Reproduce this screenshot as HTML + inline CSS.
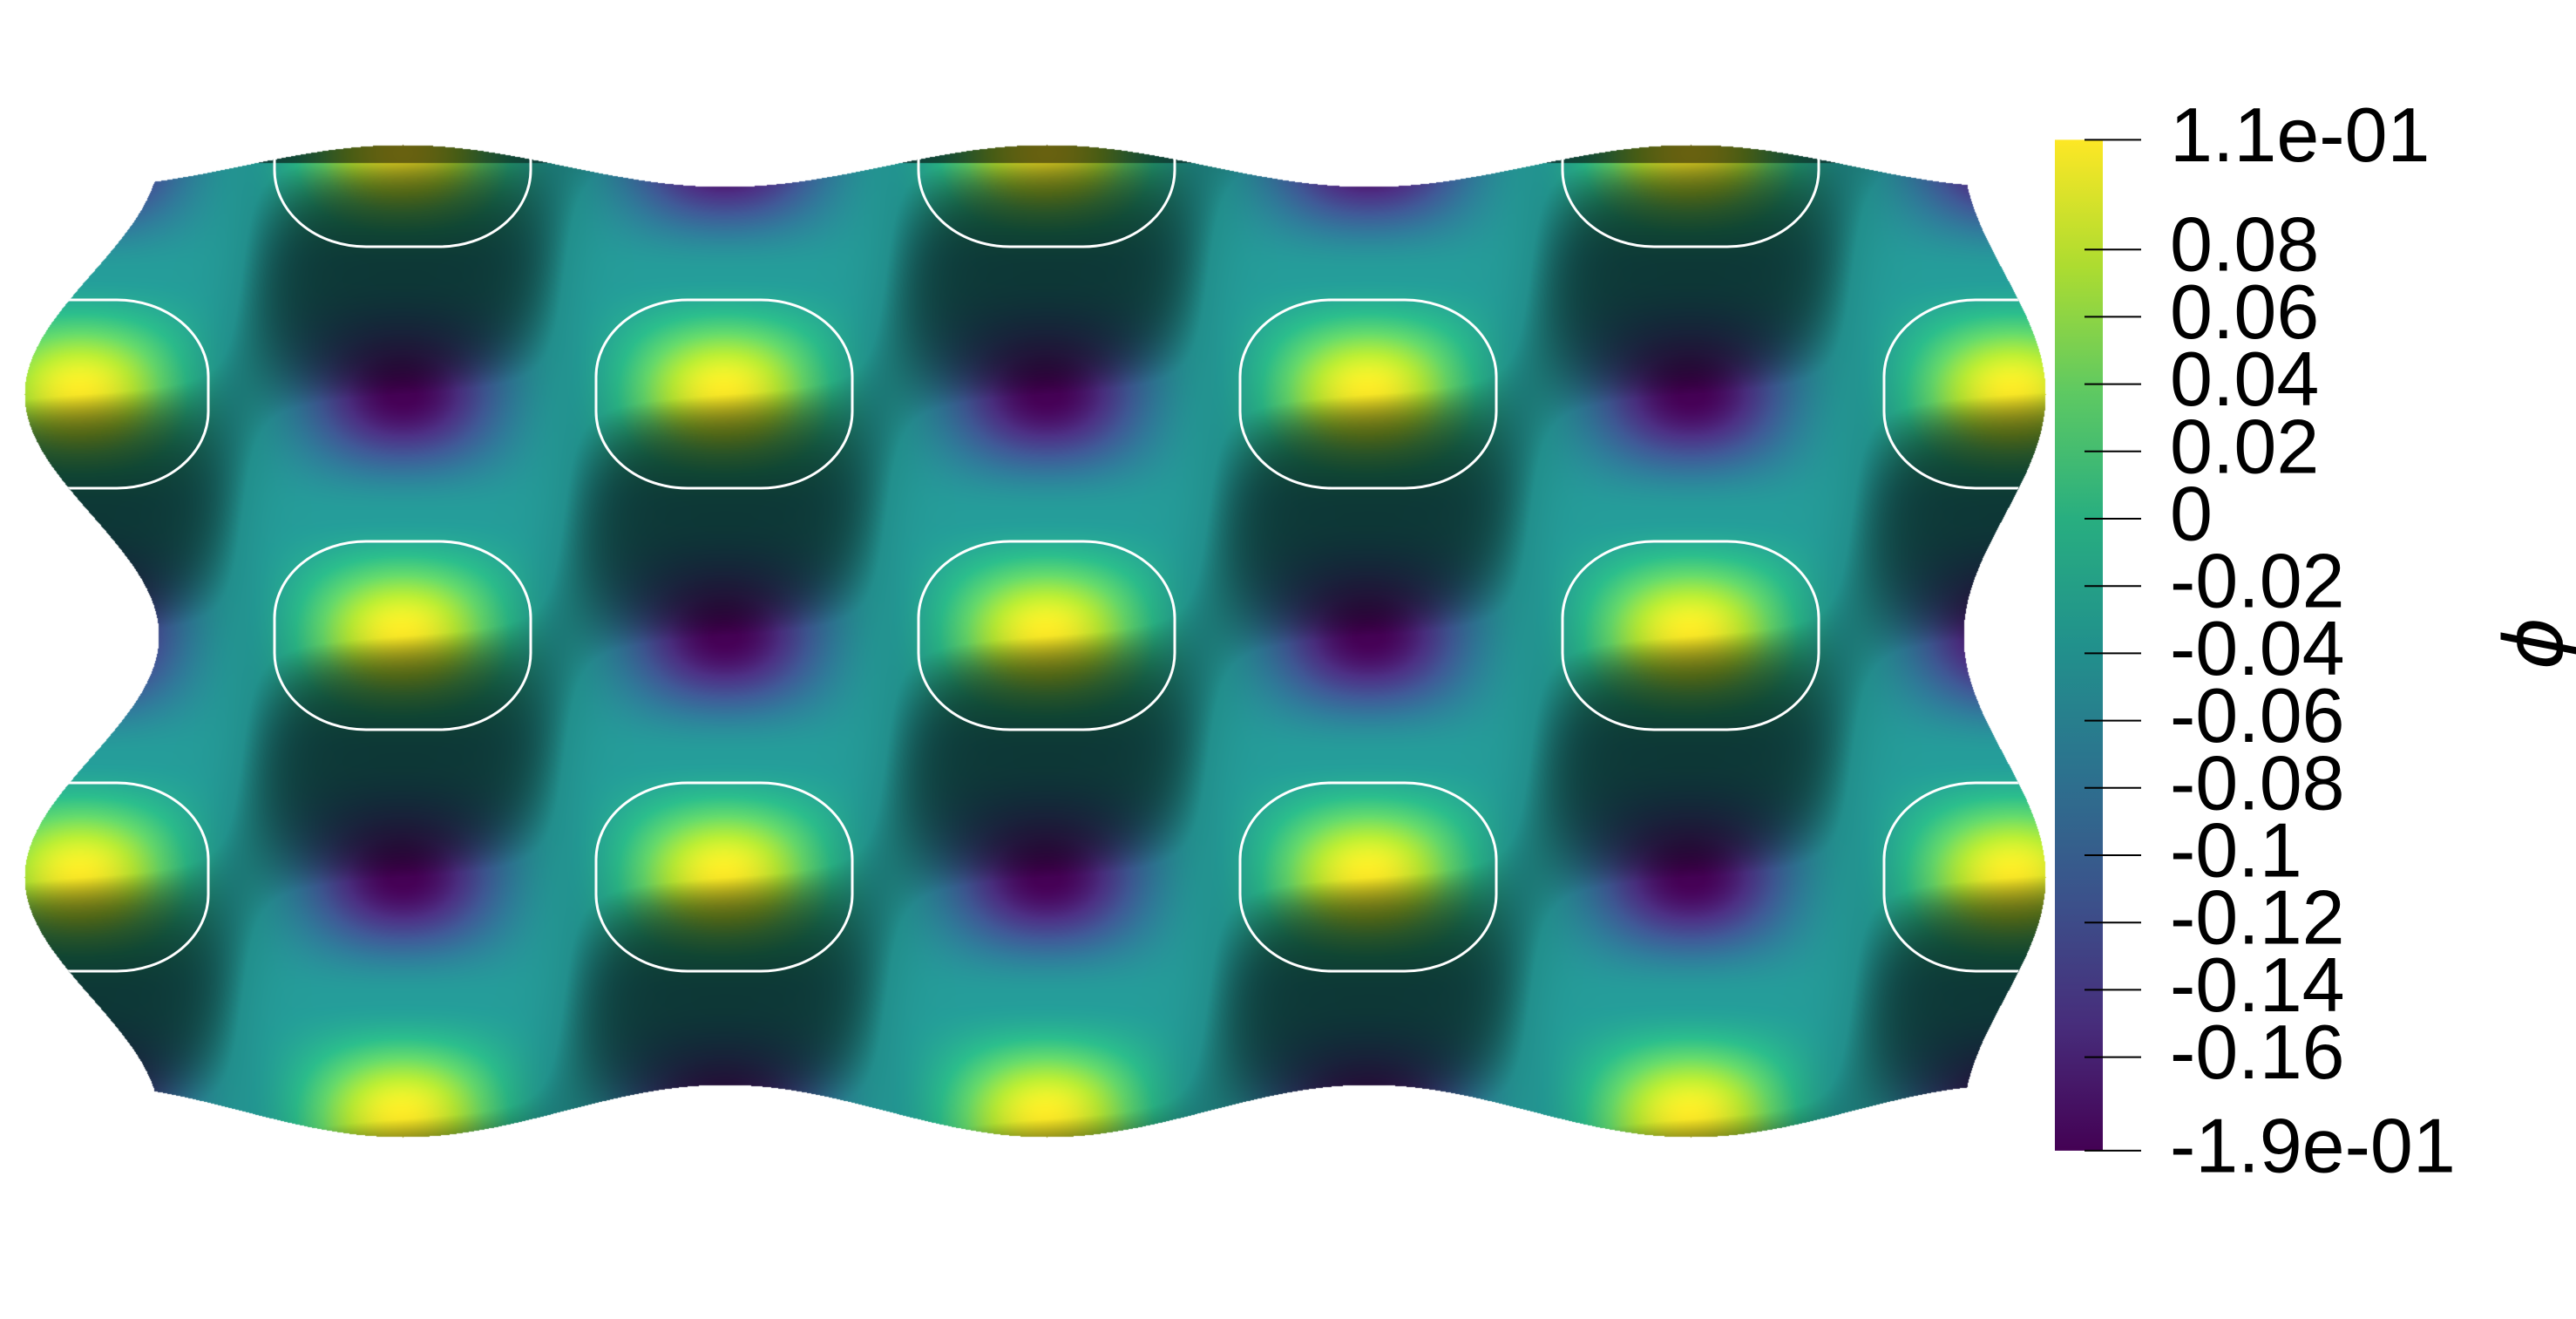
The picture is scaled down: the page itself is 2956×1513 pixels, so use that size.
<!DOCTYPE html>
<html><head><meta charset="utf-8"><style>
html,body{margin:0;padding:0;background:#fff;width:2956px;height:1513px;overflow:hidden}
#surf{position:absolute;left:0;top:0}
#ov{position:absolute;left:0;top:0}
text{font-family:"Liberation Sans",sans-serif;fill:#000}
</style></head><body>
<canvas id="surf" width="2956" height="1513"></canvas>
<svg id="ov" width="2956" height="1513">
<defs>
<clipPath id="cy"><polygon id="cyp"/></clipPath>
<clipPath id="cx"><polygon id="cxp"/></clipPath>
<linearGradient id="vir" x1="0" y1="1" x2="0" y2="0"></linearGradient>
</defs>
<g clip-path="url(#cy)"><g clip-path="url(#cx)"><g id="contours"></g></g></g>
<g id="cbar"></g>
<text x="2908" y="738" font-size="92" font-style="italic" text-anchor="middle" dominant-baseline="central" transform="rotate(-90 2908 738)" style="font-family:'DejaVu Sans',sans-serif">ϕ</text>
</svg>
<script>
// colorbar data
const tickValues=[0.08,0.06,0.04,0.02,0,-0.02,-0.04,-0.06,-0.08,-0.1,-0.12,-0.14,-0.16];
const tickLabels=["0.08","0.06","0.04","0.02","0","-0.02","-0.04","-0.06","-0.08","-0.1","-0.12","-0.14","-0.16"];
const rangeValues=[0.1126,-0.1878];
const rangeLabels=["1.1e-01","-1.9e-01"];
// field lattice data (cell centers pattern)
const cellCols=[462,831];
const cellRows=[175,452];
const phiMax=[0.11];
const phiMin=[-0.19];
const viridis=["#440154","#472d7b","#3b528b","#2c728e","#21918c","#28ae80","#5ec962","#addc30","#fde725"];

const NS="http://www.w3.org/2000/svg";
const PX=739,PY=554;
function yOf(v){return 595-v/0.02*77.2;}
function hex(c){return [parseInt(c.slice(1,3),16),parseInt(c.slice(3,5),16),parseInt(c.slice(5,7),16)];}
const vrgb=viridis.map(hex);
function vir(t){t=Math.max(0,Math.min(1,t));const p=t*8,i=Math.min(7,Math.floor(p)),f=p-i;const a=vrgb[i],b=vrgb[i+1];return [a[0]+(b[0]-a[0])*f,a[1]+(b[1]-a[1])*f,a[2]+(b[2]-a[2])*f];}
// outline
function yt(x){return 190-24*Math.cos(2*Math.PI*(x-cellCols[0])/PX);}
function yb(x){return 1274+30*Math.cos(2*Math.PI*(x-cellCols[0])/PX);}
function xl(y){return 105-77*Math.cos(2*Math.PI*(y-cellRows[1])/PY);}
function xr(y){return 2300+47*Math.cos(2*Math.PI*(y-cellRows[1])/PY);}
// surface
const cv=document.getElementById('surf'),ctx=cv.getContext('2d');
const img=ctx.createImageData(2956,1513),d=img.data;
const vmin=rangeValues[1],vmax=rangeValues[0];
const amp=(phiMax[0]-phiMin[0])/2,mid=(phiMax[0]+phiMin[0])/2;
for(let y=120;y<1340;y++){
 const L=xl(y),R=xr(y);
 const b=2*Math.PI*(y-cellRows[0])/PY,cb=Math.cos(b),sb=Math.sin(b);
 for(let x=Math.floor(L);x<=Math.ceil(R);x++){
  if(y<yt(x)||y>yb(x)||x<L||x>R)continue;
  const a=2*Math.PI*(x-cellCols[0])/PX,ca=Math.cos(a),sa=Math.sin(a);
  const f=ca*cb;
  const g=f>=0?Math.pow(f,1.9):-Math.pow(-f,2.0);
  const phi=mid+amp*g;
  const c=vir((phi-vmin)/(vmax-vmin));
  const s=-ca*sb-0.1*sa*cb;
  let sh=s>=0?1+0.1*Math.tanh(3*s):1-0.62*Math.tanh(-2.6*s);
  if(y<cellRows[0]+12&&f>0.15)sh=Math.min(sh,0.42);
  const k=(y*2956+x)*4;
  d[k]=Math.min(255,c[0]*sh);d[k+1]=Math.min(255,c[1]*sh);d[k+2]=Math.min(255,c[2]*sh);d[k+3]=255;
 }
}
ctx.putImageData(img,0,0);
// clip polygons
let p1=[];for(let x=0;x<=2956;x+=8)p1.push(x+","+yt(x));for(let x=2956;x>=0;x-=8)p1.push(x+","+yb(x));
document.getElementById('cyp').setAttribute('points',p1.join(' '));
let p2=[];for(let y=0;y<=1513;y+=8)p2.push(xl(y)+","+y);for(let y=1513;y>=0;y-=8)p2.push(xr(y)+","+y);
document.getElementById('cxp').setAttribute('points',p2.join(' '));
// contours
const cg=document.getElementById('contours');
for(let j=-1;j<=3;j++){for(let i=-1;i<=3;i++){
 const cx=cellCols[(j%2+2)%2]+i*PX, cy=cellRows[0]+j*PY/2;
 if(cx<-200||cx>2600)continue;
 const r=document.createElementNS(NS,'rect');
 
 
 r.setAttribute('x',cx-147);r.setAttribute('y',cy-108);r.setAttribute('width',294);r.setAttribute('height',216);
 r.setAttribute('rx',105);r.setAttribute('ry',88);
 r.setAttribute('fill','none');r.setAttribute('stroke','#fff');r.setAttribute('stroke-width',3);
 cg.appendChild(r);
}}
// colorbar
const gr=document.getElementById('vir');
viridis.forEach((c,i)=>{const s=document.createElementNS(NS,'stop');s.setAttribute('offset',i/8);s.setAttribute('stop-color',c);gr.appendChild(s);});
const cbg=document.getElementById('cbar');
const barTop=yOf(rangeValues[0]),barBot=yOf(rangeValues[1]);
const bar=document.createElementNS(NS,'rect');


bar.setAttribute('x',2358);bar.setAttribute('y',barTop);bar.setAttribute('width',55);bar.setAttribute('height',barBot-barTop);bar.setAttribute('fill','url(#vir)');
cbg.appendChild(bar);
function tick(v,lab){
 const y=yOf(v);
 const l=document.createElementNS(NS,'line');
 
 
 l.setAttribute('x1',2392);l.setAttribute('x2',2457);l.setAttribute('y1',y);l.setAttribute('y2',y);l.setAttribute('stroke','#000');l.setAttribute('stroke-width',2);
 cbg.appendChild(l);
 const t=document.createElementNS(NS,'text');
 
 
 t.setAttribute('x',2490);t.setAttribute('y',y-6);t.setAttribute('font-size',88);t.setAttribute('dominant-baseline','central');
 t.textContent=lab;cbg.appendChild(t);
}
tickValues.forEach((v,i)=>tick(v,tickLabels[i]));
rangeValues.forEach((v,i)=>tick(v,rangeLabels[i]));
</script>
</body></html>
